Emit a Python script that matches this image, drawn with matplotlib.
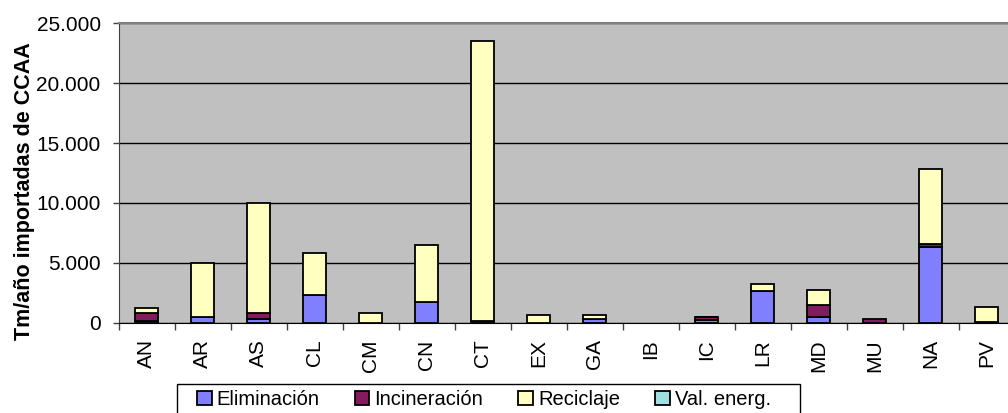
import matplotlib
matplotlib.use("Agg")
import matplotlib.pyplot as plt
import matplotlib.patches as mpatches
import numpy as np
from matplotlib.ticker import FuncFormatter, FixedLocator

categories = ["AN", "AR", "AS", "CL", "CM", "CN", "CT", "EX", "GA", "IB", "IC", "LR", "MD", "MU", "NA", "PV"]
eliminacion = [170, 500, 300, 2300, 0, 1770, 120, 0, 290, 0, 250, 2650, 450, 0, 6300, 100]
incineracion = [620, 0, 550, 0, 0, 0, 0, 0, 0, 0, 200, 0, 1000, 340, 250, 0]
reciclaje = [400, 4500, 9150, 3550, 850, 4730, 23400, 670, 380, 0, 50, 550, 1250, 0, 6250, 1250]
val_energ = [0] * 16
series_names = ["Eliminación", "Incineración", "Reciclaje", "Val. energ."]
colors = ["#8080FF", "#831B5E", "#FFFFC0", "#A0E0E0"]

plt.rcParams['font.family'] = ['Liberation Sans', 'DejaVu Sans']

W, H = 1008, 413
fig = plt.figure(figsize=(W / 100, H / 100), dpi=100)
left, right, top, bottom = 118.7, 1014.7, 23.3, 322.7
ax = fig.add_axes([left / W, 1 - bottom / H, (right - left) / W, (bottom - top) / H])
ax.set_facecolor("#C0C0C0")

x = np.arange(len(categories))
bw = 0.41
base = np.zeros(len(categories))
handles = []
for vals, name, col in zip([eliminacion, incineracion, reciclaje, val_energ], series_names, colors):
    v = np.array(vals, dtype=float)
    h = np.where(v > 0, v, np.nan)
    b = ax.bar(x, h, bw, bottom=base, color=col, edgecolor="black", linewidth=1.3, label=name, zorder=3)
    handles.append(b)
    base += v

ax.set_xlim(-0.5, len(categories) - 0.5)
ax.set_ylim(0, 25000)
ax.yaxis.set_major_locator(FixedLocator(np.arange(0, 25001, 5000)))
ax.yaxis.set_major_formatter(FuncFormatter(lambda v, p: f"{int(v):,}".replace(",", ".")))
ax.grid(axis="y", color="black", linewidth=1.0, zorder=1)

ax.set_xticks(x)
ax.set_xticklabels(categories, rotation=90, fontsize=15)
ax.tick_params(axis="x", which="major", length=0, pad=12)
ax.set_xticks(np.arange(-0.5, len(categories), 1), minor=True)
ax.tick_params(axis="x", which="minor", length=5, color="#404040", width=1)
ax.tick_params(axis="y", length=4, color="#404040", width=1, labelsize=15, pad=9)

for s in ["top", "right"]:
    ax.spines[s].set_color("#808080")
    ax.spines[s].set_linewidth(1.5)
ax.spines["left"].set_color("#404040")
ax.spines["bottom"].set_color("black")

fig.text(25 / W, 1 - 191 / H, "Tm/año importadas de CCAA", rotation=90, fontsize=15.5,
         fontweight="bold", ha="center", va="center")

leg = fig.legend(handles=handles, labels=series_names, ncol=4, loc="upper left",
                 bbox_to_anchor=(191 / W, 1 - 384 / H), fontsize=14.5, frameon=False,
                 handlelength=0.72, handleheight=0.72, handletextpad=0.25,
                 columnspacing=1.75, borderpad=0.3, borderaxespad=0)
for hdl in leg.legend_handles:
    hdl.set_linewidth(1.3)

fig.patches.append(mpatches.Rectangle((177 / W, 1 - 425 / H), (800 - 177) / W, (425 - 384) / H,
                                      transform=fig.transFigure, fill=False, edgecolor="black",
                                      linewidth=1.0))

fig.savefig("out.png", dpi=100)
